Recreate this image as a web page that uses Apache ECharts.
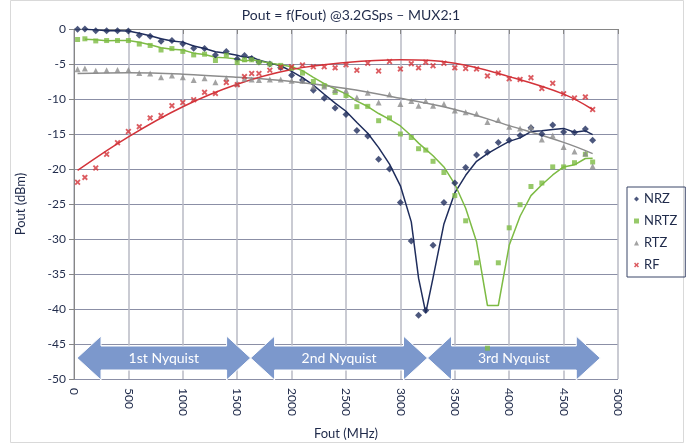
<!DOCTYPE html>
<html lang="en">
<head>
    <meta charset="UTF-8">
    <title>Pout = f(Fout)</title>
    <script src="https://cdn.jsdelivr.net/npm/echarts@6/dist/echarts.min.js"></script>
    <style>
        body { margin: 0; background: #fff; }
    </style>
</head>
<body>
<div id="chart" style="width: 689px;height: 445px;"></div>
<script>
    // output frequency, MHz (extra samples near 1600 / 3200)
    var freq = [33, 100, 200, 300, 400, 500, 600, 700, 800, 900, 1000, 1100, 1200, 1300, 1400, 1500, 1567, 1633,
        1700, 1800, 1900, 2000, 2100, 2200, 2300, 2400, 2500, 2600, 2700, 2800, 2900, 3000, 3100, 3167, 3233,
        3300, 3400, 3500, 3600, 3700, 3800, 3900, 4000, 4100, 4200, 4300, 4400, 4500, 4600, 4700, 4767];

    // measured Pout, dBm
    var nrz = [-0.05, 0, -0.25, -0.25, -0.25, -0.3, -0.9, -1.05, -1.75, -1.65, -2.1, -2.75, -2.8, -3.7, -3.2, -4.3, -3.8, -4.2,
        -4.7, -5.0, -5.5, -6.6, -7.3, -8.75, -9.9, -11.3, -12.2, -14.5, -15.3, -18.6, -20.0, -24.8, -30.3, -40.9, -40.2,
        -30.9, -24.8, -22.0, -19.8, -18.0, -17.6, -16.2, -15.9, -15.2, -14.1, -15.0, -13.7, -14.7, -14.8, -14.3, -15.9];
    var nrtz = [-1.5, -1.4, -1.7, -1.65, -1.65, -1.65, -2.15, -2.35, -3.0, -2.8, -3.2, -3.7, -3.6, -4.5, -3.75, -4.8, -4.4, -4.4,
        -4.75, -5.0, -5.2, -5.6, -6.3, -7.5, -8.1, -9.05, -9.5, -11.1, -11.05, -13.1, -12.7, -15.0, -15.5, -17.1, -17.3,
        -18.9, -20.5, -23.8, -27.4, -33.4, -45.6, -33.4, -28.4, -25.1, -22.5, -22.0, -19.7, -19.7, -19.1, -17.9, -19.0];
    var rtz = [-5.75, -5.65, -5.95, -5.9, -5.85, -5.85, -6.3, -6.35, -6.9, -6.65, -6.9, -7.3, -7.05, -7.6, -7.05, -7.8, -7.1, -7.2,
        -7.3, -7.2, -7.2, -7.4, -7.4, -8.2, -8.2, -8.7, -8.8, -9.8, -9.1, -10.5, -9.35, -10.7, -10.3, -10.95, -10.3,
        -10.95, -10.7, -11.65, -11.9, -12.1, -13.3, -13.0, -13.95, -14.2, -14.0, -15.8, -15.2, -16.85, -17.5, -17.8, -19.6];
    var rf = [-21.9, -21.2, -19.85, -17.9, -16.25, -14.65, -13.95, -12.7, -12.35, -10.95, -10.5, -10.1, -9.05, -9.2, -7.65, -7.95, -6.8, -6.35,
        -6.35, -5.9, -5.45, -5.4, -5.15, -5.4, -5.4, -5.55, -5.1, -5.9, -4.9, -6.0, -4.65, -5.7, -4.95, -5.55, -4.75,
        -5.25, -4.9, -5.55, -5.65, -5.7, -6.7, -6.3, -7.1, -7.2, -6.95, -8.5, -7.75, -9.25, -9.85, -9.7, -11.5];

    // polynomial trend lines
    var trendX = [33, 500, 1000, 1500, 2000, 2500, 3000, 3500, 4000, 4500, 4767];
    var rtzTrend = [-6.35, -6.25, -6.45, -6.9, -7.5, -8.5, -9.9, -11.5, -13.8, -16.2, -17.8];
    var rfTrend = [-20.2, -15.4, -11.1, -7.9, -5.8, -4.8, -4.4, -4.9, -6.8, -9.3, -11.5];

    var xTicks = [0, 5000, 500];     // min, max, step
    var yTicks = [-50, 0, 5];

    // Nyquist zone arrows: [label, from MHz, to MHz]
    var zones = [['1st Nyquist', 28, 1623], ['2nd Nyquist', 1623, 3249], ['3rd Nyquist', 3249, 4837]];
    var zoneY = -47;

    var FONT = 'Lato';
    var TXT = '#1f2a4a';

    function pairs(xs, ys) {
        var out = [];
        for (var i = 0; i < xs.length; i++) out.push([xs[i], ys[i]]);
        return out;
    }
    // 2-period moving average trend line
    function movingAvg(xs, ys) {
        var out = [];
        for (var i = 1; i < xs.length; i++) out.push([xs[i], (ys[i - 1] + ys[i]) / 2]);
        return out;
    }

    var xMark = 'path://M0,2.2 L2.2,0 L5,2.8 L7.8,0 L10,2.2 L7.2,5 L10,7.8 L7.8,10 L5,7.2 L2.2,10 L0,7.8 L2.8,5 Z';

    var colors = {nrz: '#1f2d5c', nrtz: '#7dbb44', rtz: '#8c8c8c', rf: '#d3333a'};

    var myChart = echarts.init(document.getElementById('chart'));
    var option = {
        backgroundColor: '#fff',
        animation: false,
        title: {
            text: 'Pout = f(Fout) @3.2GSps \u2013 MUX2:1',
            left: 346,
            textAlign: 'center',
            top: 3,
            textStyle: {fontFamily: FONT, fontSize: 14, fontWeight: 'normal', color: TXT}
        },
        legend: {
            data: ['NRZ', 'NRTZ', 'RTZ', 'RF'],
            orient: 'vertical',
            left: 627,
            top: 187,
            padding: [4, 8, 4, 7],
            itemWidth: 5,
            itemHeight: 5,
            itemGap: 6,
            borderColor: '#3b4668',
            borderWidth: 1,
            textStyle: {fontFamily: FONT, fontSize: 13, color: TXT, lineHeight: 16}
        },
        grid: {left: 74, right: 71, top: 29, bottom: 55},
        xAxis: {
            type: 'value',
            min: xTicks[0],
            max: xTicks[1],
            interval: xTicks[2],
            name: 'Fout (MHz)',
            nameLocation: 'middle',
            nameGap: 48,
            nameTextStyle: {fontFamily: FONT, fontSize: 13, color: TXT},
            axisLine: {lineStyle: {color: '#868686'}},
            axisTick: {show: true, length: 5, lineStyle: {color: '#868686'}},
            axisLabel: {
                rotate: -90, margin: 9, fontFamily: FONT, fontSize: 12, color: TXT,
                formatter: function (v) { return String(v); }
            },
            splitLine: {show: true, lineStyle: {color: '#b9bac4', width: 1.5}}
        },
        yAxis: {
            type: 'value',
            min: yTicks[0],
            max: yTicks[1],
            interval: yTicks[2],
            name: 'Pout (dBm)',
            nameLocation: 'middle',
            nameGap: 47,
            nameTextStyle: {fontFamily: FONT, fontSize: 13, color: TXT},
            axisLine: {show: true, lineStyle: {color: '#868686'}},
            axisTick: {show: true, length: 5, lineStyle: {color: '#868686'}},
            axisLabel: {margin: 8, fontFamily: FONT, fontSize: 12, color: TXT},
            splitLine: {lineStyle: {color: '#8b8fa6'}}
        },
        series: [
            {name: 'NRZ', type: 'scatter', symbol: 'diamond', symbolSize: 7, z: 4,
                itemStyle: {color: colors.nrz}, data: pairs(freq, nrz)},
            {name: 'NRTZ', type: 'scatter', symbol: 'rect', symbolSize: 5, z: 4,
                itemStyle: {color: colors.nrtz}, data: pairs(freq, nrtz)},
            {name: 'RTZ', type: 'scatter', symbol: 'triangle', symbolSize: 6, z: 4,
                itemStyle: {color: colors.rtz}, data: pairs(freq, rtz)},
            {name: 'RF', type: 'scatter', symbol: xMark, symbolSize: 6, z: 4,
                itemStyle: {color: colors.rf}, data: pairs(freq, rf)},
            // trend lines
            {name: 'NRZ avg', type: 'line', showSymbol: false, z: 3,
                lineStyle: {color: colors.nrz, width: 1.5}, data: movingAvg(freq, nrz)},
            {name: 'NRTZ avg', type: 'line', showSymbol: false, z: 3,
                lineStyle: {color: colors.nrtz, width: 1.5}, data: movingAvg(freq, nrtz)},
            {name: 'RTZ poly', type: 'line', showSymbol: false, smooth: 0.4, z: 3,
                lineStyle: {color: colors.rtz, width: 1.5}, data: pairs(trendX, rtzTrend)},
            {name: 'RF poly', type: 'line', showSymbol: false, smooth: 0.4, z: 3,
                lineStyle: {color: colors.rf, width: 1.5}, data: pairs(trendX, rfTrend)}
        ]
    };
    myChart.setOption(option);

    // Nyquist arrows placed with the axis scales
    var graphics = [{
        type: 'rect', z: 0, silent: true,
        shape: {x: 10.5, y: 0.5, width: 673, height: 442},
        style: {fill: 'none', stroke: '#d9d9d9', lineWidth: 1}
    }];
    var head = 24, halfHead = 22, halfBody = 12;
    zones.forEach(function (z) {
        var a = myChart.convertToPixel({gridIndex: 0}, [z[1], zoneY]);
        var b = myChart.convertToPixel({gridIndex: 0}, [z[2], zoneY]);
        var xl = a[0], xr = b[0], yc = a[1];
        graphics.push({
            type: 'polygon', z: 1, silent: true,
            shape: {points: [
                [xl, yc], [xl + head, yc - halfHead], [xl + head, yc - halfBody],
                [xr - head, yc - halfBody], [xr - head, yc - halfHead], [xr, yc],
                [xr - head, yc + halfHead], [xr - head, yc + halfBody],
                [xl + head, yc + halfBody], [xl + head, yc + halfHead]
            ]},
            style: {fill: '#7c98cc', stroke: '#fff', lineWidth: 1}
        });
        graphics.push({
            type: 'text', z: 2, silent: true,
            x: (xl + xr) / 2, y: yc,
            style: {text: z[0], fill: '#fff', font: '14px ' + FONT, align: 'center', verticalAlign: 'middle'}
        });
    });
    myChart.setOption({graphic: graphics});
</script>
</body>
</html>
